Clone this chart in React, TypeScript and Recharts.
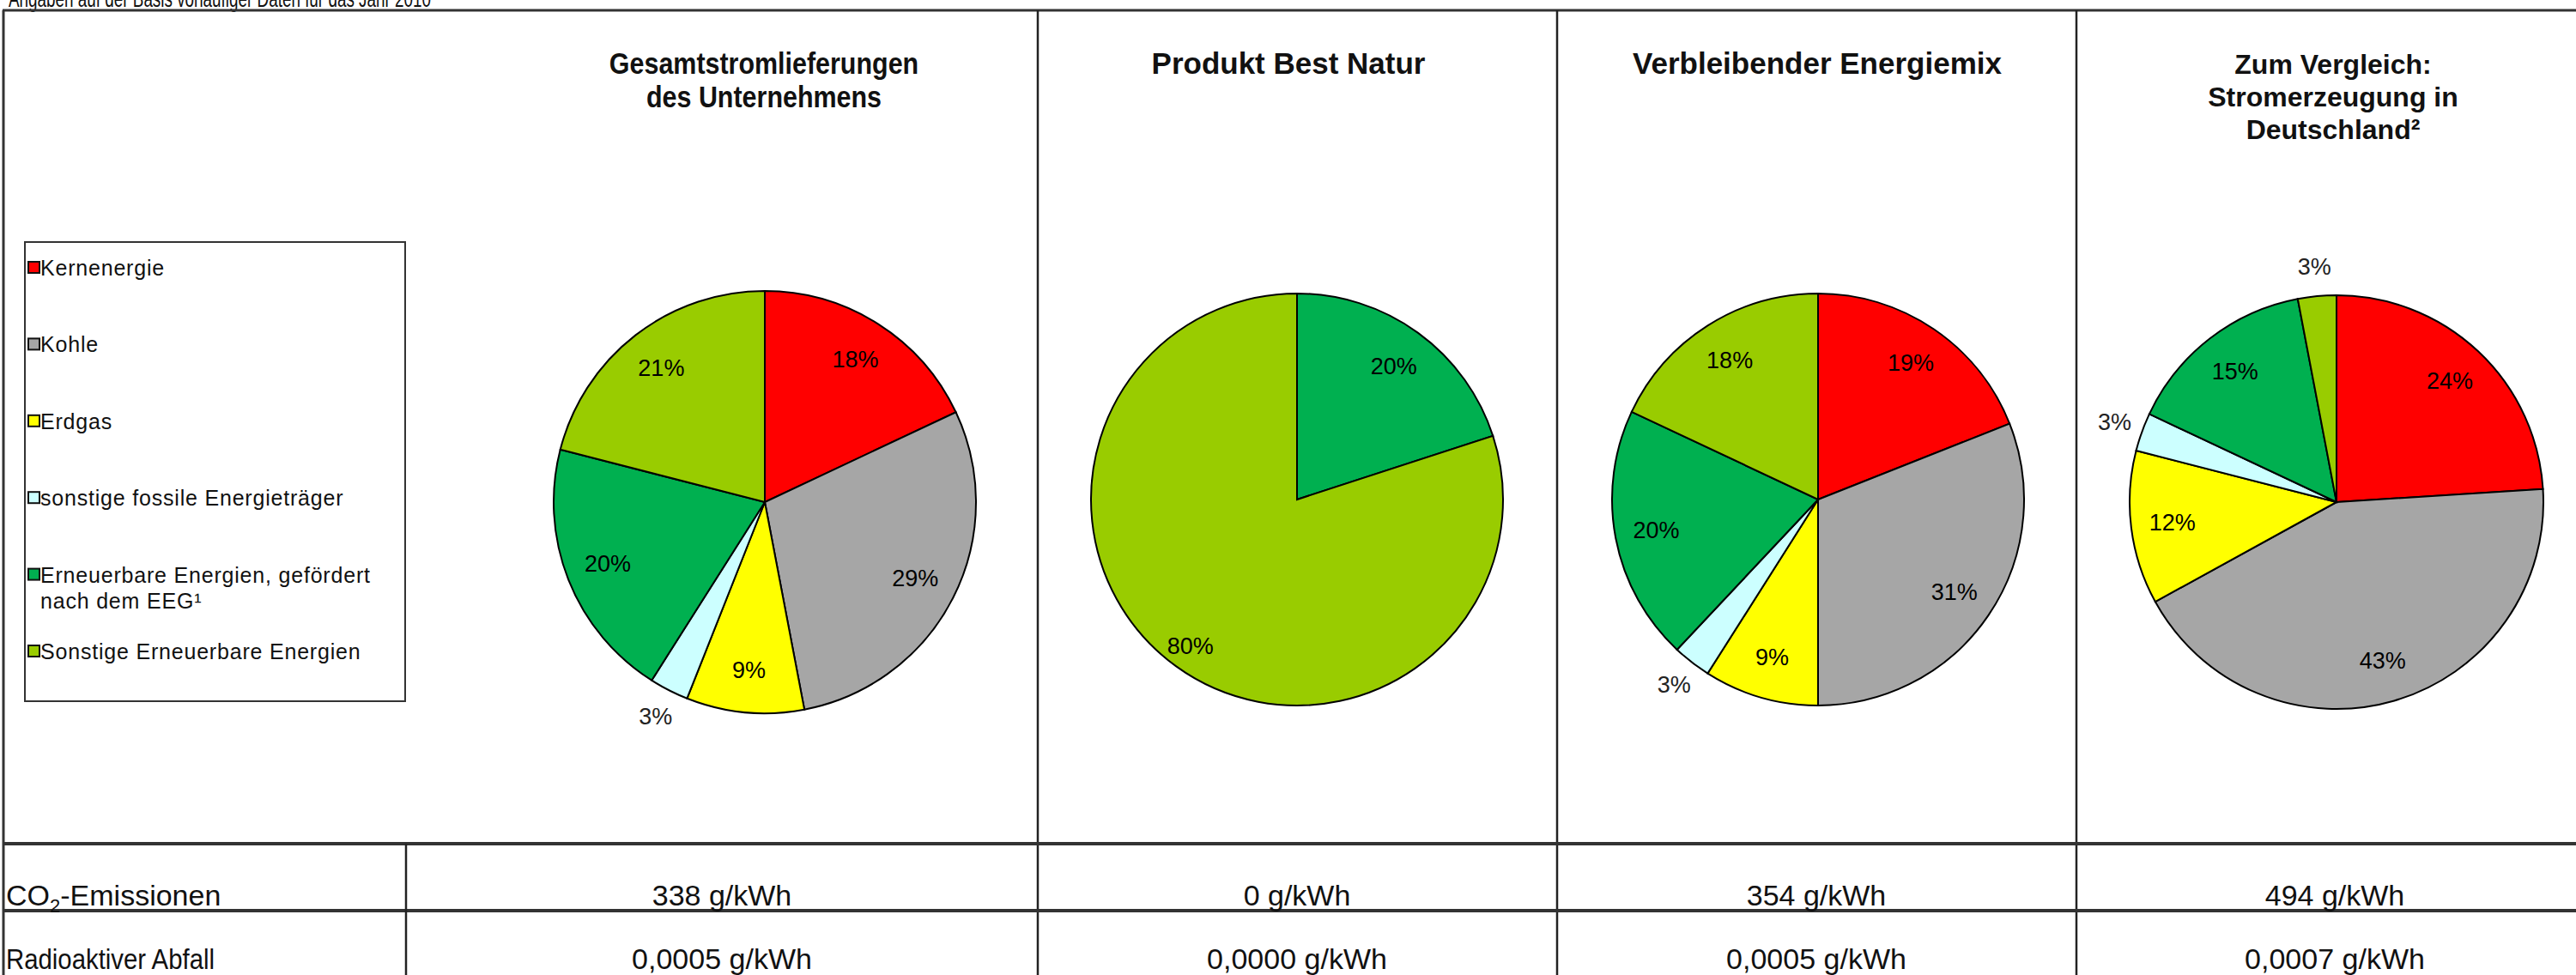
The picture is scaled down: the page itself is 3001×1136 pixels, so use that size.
import { PieChart, Pie, Cell } from "recharts";

const CATEGORIES = [
  "Kernenergie",
  "Kohle",
  "Erdgas",
  "sonstige fossile Energieträger",
  "Erneuerbare Energien, gefördert nach dem EEG¹",
  "Sonstige Erneuerbare Energien",
];
const LEGEND_LINES = [
  ["Kernenergie"],
  ["Kohle"],
  ["Erdgas"],
  ["sonstige fossile Energieträger"],
  ["Erneuerbare Energien, gefördert", "nach dem EEG¹"],
  ["Sonstige Erneuerbare Energien"],
];
const COLORS = ["#ff0000", "#a6a6a6", "#ffff00", "#ccffff", "#00b050", "#99cc00"];

// percent shares, same order as CATEGORIES
const GESAMT = [18, 29, 9, 3, 20, 21];
const BEST_NATUR = [0, 0, 0, 0, 20, 80];
const RESTMIX = [19, 31, 9, 3, 20, 18];
const DEUTSCHLAND = [24, 43, 12, 3, 15, 3];

const TITLES = [
  ["Gesamtstromlieferungen", "des Unternehmens"],
  ["Produkt Best Natur"],
  ["Verbleibender Energiemix"],
  ["Zum Vergleich:", "Stromerzeugung in", "Deutschland²"],
];
const CO2 = ["338 g/kWh", "0 g/kWh", "354 g/kWh", "494 g/kWh"];
const WASTE = ["0,0005 g/kWh", "0,0000 g/kWh", "0,0005 g/kWh", "0,0007 g/kWh"];

const W = 3001;
const H = 1136;
const FONT = "'Liberation Sans', Arial, sans-serif";

// layout of the four columns
const COL_LINES = [1209, 1814, 2419];
const COL_CENTERS = [841, 1511, 2116, 2720];
const TITLE_STYLE = [
  { x: 890, size: 35, gap: 39, squeeze: 0.87 },
  { x: 1501, size: 35, gap: 39, squeeze: 1 },
  { x: 2117, size: 35, gap: 39, squeeze: 1 },
  { x: 2718, size: 32, gap: 38, squeeze: 1 },
];
const PIES = [
  { values: GESAMT, cx: 891, cy: 585, r: 246 },
  { values: BEST_NATUR, cx: 1511, cy: 582, r: 240 },
  { values: RESTMIX, cx: 2118, cy: 582, r: 240 },
  { values: DEUTSCHLAND, cx: 2722, cy: 585, r: 241 },
];

const RAD = Math.PI / 180;

function renderLabel(p: any) {
  const { cx, cy, midAngle, outerRadius, value, percent } = p;
  const outside = percent < 0.05;
  const r = outerRadius * (outside ? 1.14 : percent > 0.6 ? 0.88 : 0.8);
  const x = cx + r * Math.cos(-midAngle * RAD);
  const y = cy + r * Math.sin(-midAngle * RAD);
  return (
    <text x={x} y={y} textAnchor="middle" dominantBaseline="central"
      fontFamily={FONT} fontSize={27} fill={outside ? "#222" : "#000"}>
      {`${value}%`}
    </text>
  );
}

function buildData(values: number[]) {
  return CATEGORIES.map((name, i) => ({ name, value: values[i], color: COLORS[i] }))
    .filter((d) => d.value > 0);
}

export default function App() {
  return (
    <div style={{ position: "absolute", left: 0, top: 0, width: W, height: H, overflow: "hidden", background: "#fff" }}>
      <div style={{ position: "absolute", left: 0, top: 0 }}>
        <PieChart width={W} height={H} margin={{ top: 0, right: 0, bottom: 0, left: 0 }}>
          {PIES.map((pie, k) => {
            const data = buildData(pie.values);
            return (
              <Pie key={k} data={data} dataKey="value" nameKey="name"
                cx={pie.cx} cy={pie.cy} outerRadius={pie.r}
                startAngle={90} endAngle={-270}
                stroke="#000" strokeWidth={2}
                label={renderLabel} labelLine={false}
                isAnimationActive={false}>
                {data.map((d) => <Cell key={d.name} fill={d.color} />)}
              </Pie>
            );
          })}
        </PieChart>
      </div>
      <svg width={W} height={H} style={{ position: "absolute", left: 0, top: 0, pointerEvents: "none" }}
        fontFamily={FONT}>
        <text x={10} y={8} fontSize={28} fill="#111" textLength={492} lengthAdjust="spacingAndGlyphs">
          Angaben auf der Basis vorläufiger Daten für das Jahr 2010
        </text>
        {/* frame */}
        <line x1={3} y1={12} x2={W} y2={12} stroke="#333" strokeWidth={3} />
        <line x1={4} y1={12} x2={4} y2={H} stroke="#333" strokeWidth={3} />
        {COL_LINES.map((x) => (
          <line key={x} x1={x} y1={12} x2={x} y2={H} stroke="#222" strokeWidth={2.5} />
        ))}
        <line x1={4} y1={983} x2={W} y2={983} stroke="#333" strokeWidth={4} />
        <line x1={4} y1={1061} x2={W} y2={1061} stroke="#333" strokeWidth={4} />
        <line x1={473} y1={983} x2={473} y2={H} stroke="#222" strokeWidth={2.5} />

        {/* titles */}
        {TITLES.map((lines, i) => {
          const t = TITLE_STYLE[i];
          return (
            <g key={i} transform={`translate(${t.x},0) scale(${t.squeeze},1)`}>
              <text textAnchor="middle" fontSize={t.size} fontWeight="bold" fill="#111">
                {lines.map((l, j) => (
                  <tspan key={j} x={0} y={86 + j * t.gap}>{l}</tspan>
                ))}
              </text>
            </g>
          );
        })}

        {/* legend */}
        <rect x={29} y={282} width={443} height={535} fill="none" stroke="#333" strokeWidth={2} />
        {LEGEND_LINES.map((lines, i) => {
          const base = 321 + i * 89.4;
          return (
            <g key={i}>
              <rect x={33} y={base - 16} width={13} height={13} fill={COLORS[i]} stroke="#111" strokeWidth={2} />
              <text fontSize={25} letterSpacing={0.8} fill="#111">
                {lines.map((l, j) => (
                  <tspan key={j} x={47} y={base + j * 30}>{l}</tspan>
                ))}
              </text>
            </g>
          );
        })}

        {/* table */}
        <text x={7} y={1055} fontSize={34} fill="#111">
          CO<tspan fontSize={22} dy={8}>2</tspan><tspan dy={-8}>-Emissionen</tspan>
        </text>
        <text x={7} y={1129} fontSize={34} fill="#111" textLength={243} lengthAdjust="spacingAndGlyphs">
          Radioaktiver Abfall
        </text>
        {CO2.map((v, i) => (
          <text key={"c" + i} x={COL_CENTERS[i]} y={1055} fontSize={34} textAnchor="middle" fill="#111">{v}</text>
        ))}
        {WASTE.map((v, i) => (
          <text key={"w" + i} x={COL_CENTERS[i]} y={1129} fontSize={34} textAnchor="middle" fill="#111">{v}</text>
        ))}
      </svg>
    </div>
  );
}
